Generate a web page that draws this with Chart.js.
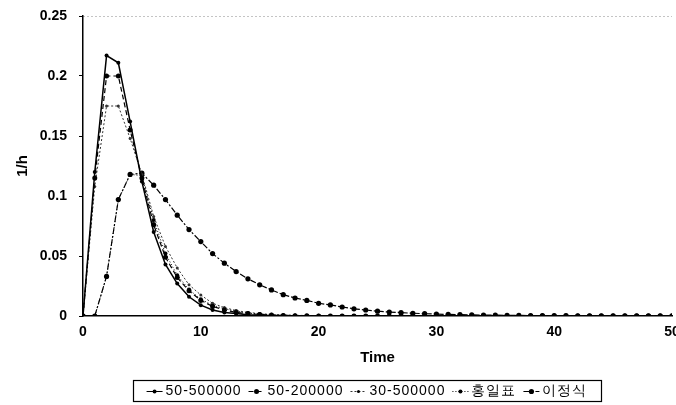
<!DOCTYPE html>
<html>
<head>
  <meta charset="utf-8">
  <title>1/h vs Time</title>
  <script src="https://cdn.jsdelivr.net/npm/chart.js@4.4.0/dist/chart.umd.min.js"></script>
  <style>
    body { margin: 0; overflow: hidden; background: #fff; }
    #wrap { width: 690px; height: 405px; }
  </style>
</head>
<body>
  <div id="wrap">
    <canvas id="myChart" width="690" height="405"></canvas>
  </div>

  <script>
    // time steps
    const times = [0, 1, 2, 3, 4, 5, 6, 7, 8, 9, 10, 11, 12, 13, 14, 15, 16, 17, 18, 19, 20,
      21, 22, 23, 24, 25, 26, 27, 28, 29, 30, 31, 32, 33, 34, 35, 36, 37, 38, 39, 40,
      41, 42, 43, 44, 45, 46, 47, 48, 49, 50];

    const seriesLabels = ['50-500000', '50-200000', '30-500000', '홍일표', '이정식'];

    const s50_500000 = [0, 0.120, 0.217, 0.211, 0.162, 0.112, 0.070, 0.043, 0.027, 0.016, 0.009,
      0.005, 0.003, 0.002, 0.001, 0.0007, 0.0004, 0.0003, 0.0002, 0.0001, 0,
      0, 0, 0, 0, 0, 0, 0, 0, 0, 0, 0, 0, 0, 0, 0, 0, 0, 0, 0, 0,
      0, 0, 0, 0, 0, 0, 0, 0, 0, 0];

    const s50_200000 = [0, 0.115, 0.200, 0.200, 0.155, 0.115, 0.076, 0.049, 0.032, 0.021, 0.013,
      0.008, 0.005, 0.003, 0.002, 0.0013, 0.0008, 0.0005, 0.0003, 0.0002, 0.0001,
      0, 0, 0, 0, 0, 0, 0, 0, 0, 0, 0, 0, 0, 0, 0, 0, 0, 0, 0, 0,
      0, 0, 0, 0, 0, 0, 0, 0, 0, 0];

    const s30_500000 = [0, 0.108, 0.175, 0.175, 0.148, 0.118, 0.083, 0.058, 0.040, 0.026, 0.0175,
      0.0106, 0.007, 0.0045, 0.003, 0.002, 0.0013, 0.0009, 0.0006, 0.0004, 0.0003,
      0.0002, 0.0001, 0, 0, 0, 0, 0, 0, 0, 0, 0, 0, 0, 0, 0, 0, 0, 0, 0, 0,
      0, 0, 0, 0, 0, 0, 0, 0, 0, 0];

    const sHong = [0, 0, 0.033, 0.097, 0.118, 0.117, 0.080, 0.052, 0.034, 0.022, 0.014,
      0.009, 0.006, 0.004, 0.0025, 0.0016, 0.001, 0.0006, 0.0004, 0.0003, 0.0002,
      0.0001, 0, 0, 0, 0, 0, 0, 0, 0, 0, 0, 0, 0, 0, 0, 0, 0, 0, 0, 0,
      0, 0, 0, 0, 0, 0, 0, 0, 0, 0];

    const sLee = [0, 0, 0.033, 0.097, 0.118, 0.119, 0.109, 0.097, 0.084, 0.072, 0.062,
      0.052, 0.044, 0.037, 0.031, 0.026, 0.0217, 0.0178, 0.015, 0.013, 0.0106,
      0.0092, 0.0075, 0.006, 0.005, 0.004, 0.0033, 0.0028, 0.0023, 0.0019, 0.0016,
      0.0013, 0.0011, 0.0009, 0.0008, 0.0007, 0.0006, 0.0005, 0.0004, 0.0004, 0.0003,
      0.0003, 0.0002, 0.0002, 0.0002, 0.0001, 0.0001, 0.0001, 0.0001, 0.0001, 0.0001];

    const yTicks = [0, 0.05, 0.1, 0.15, 0.2, 0.25];
    const xTicks = [0, 10, 20, 30, 40, 50];

    function toPoints(values) {
      return values.map((v, i) => ({ x: times[i], y: v }));
    }

    const FONT = 'Liberation Sans, Arial, sans-serif';

    // draws the boxed legend under the chart
    const boxLegend = {
      id: 'boxLegend',
      afterDraw(chart) {
        const ctx = chart.ctx;
        const left = 133, right = 601, top = 380, bottom = 401;
        ctx.save();
        ctx.strokeStyle = '#000';
        ctx.lineWidth = 1.2;
        ctx.strokeRect(left + 0.5, top + 0.5, right - left, bottom - top);
        ctx.font = '14px ' + FONT;
        ctx.letterSpacing = '1px';
        ctx.textBaseline = 'middle';
        const sample = 16, gap = 3, itemGap = 7;
        let total = 0;
        chart.data.datasets.forEach(ds => {
          total += sample + gap + ctx.measureText(ds.label).width + itemGap;
        });
        total -= itemGap;
        let x = left + (right - left - total) / 2;
        const y = (top + bottom) / 2 + 1;
        chart.data.datasets.forEach(ds => {
          ctx.strokeStyle = ds.borderColor;
          ctx.lineWidth = 1;
          ctx.setLineDash(ds.borderDash || []);
          ctx.beginPath();
          ctx.moveTo(x, y);
          ctx.lineTo(x + sample, y);
          ctx.stroke();
          ctx.setLineDash([]);
          if (ds.pointRadius > 0) {
            ctx.fillStyle = '#000';
            ctx.beginPath();
            ctx.arc(x + sample / 2, y, ds.pointRadius, 0, Math.PI * 2);
            ctx.fill();
          }
          x += sample + gap;
          ctx.fillStyle = '#000';
          ctx.fillText(ds.label, x, y);
          x += ctx.measureText(ds.label).width + itemGap;
        });
        ctx.restore();
      }
    };

    const ctx = document.getElementById('myChart').getContext('2d');
    const myChart = new Chart(ctx, {
      type: 'line',
      data: {
        datasets: [{
          label: seriesLabels[0],
          data: toPoints(s50_500000),
          borderColor: '#000',
          borderWidth: 1.5,
          pointRadius: 2,
          pointBackgroundColor: '#000',
          pointBorderWidth: 0
        }, {
          label: seriesLabels[1],
          data: toPoints(s50_200000),
          borderColor: '#000',
          borderWidth: 1.2,
          borderDash: [5, 3],
          pointRadius: 2.5,
          pointBackgroundColor: '#000',
          pointBorderWidth: 0
        }, {
          label: seriesLabels[2],
          data: toPoints(s30_500000),
          borderColor: '#333',
          borderWidth: 1,
          borderDash: [2, 2],
          pointRadius: 1.5,
          pointBackgroundColor: '#333',
          pointBorderWidth: 0
        }, {
          label: seriesLabels[3],
          data: toPoints(sHong),
          borderColor: '#000',
          borderWidth: 1,
          borderDash: [1, 2],
          pointRadius: 2,
          pointBackgroundColor: '#000',
          pointBorderWidth: 0
        }, {
          label: seriesLabels[4],
          data: toPoints(sLee),
          borderColor: '#000',
          borderWidth: 1.2,
          borderDash: [6, 2, 2, 2],
          pointRadius: 2.6,
          pointBackgroundColor: '#000',
          pointBorderWidth: 0
        }]
      },
      options: {
        responsive: false,
        animation: false,
        layout: { padding: { left: 0, top: 16, right: 18, bottom: 0 } },
        plugins: {
          legend: { display: false },
          tooltip: { enabled: false }
        },
        scales: {
          x: {
            type: 'linear',
            min: 0,
            max: 50,
            afterBuildTicks: s => { s.ticks = xTicks.map(v => ({ value: v })); },
            afterFit: s => { s.height = 89; },
            ticks: {
              color: '#000',
              font: { family: FONT, size: 14, weight: 'bold' },
              padding: 8,
              maxRotation: 0
            },
            grid: { display: true, drawOnChartArea: false, drawTicks: false },
            border: { color: '#000', width: 1.5 },
            title: {
              display: true,
              text: 'Time',
              color: '#000',
              font: { family: FONT, size: 15, weight: 'bold' },
              padding: { top: 4, bottom: 38 }
            }
          },
          y: {
            min: 0,
            max: 0.25,
            afterBuildTicks: s => { s.ticks = yTicks.map(v => ({ value: v })); },
            afterFit: s => {
              s.width = 83;
              s.paddingTop = 0;
              s.paddingBottom = 0;
            },
            ticks: {
              color: '#000',
              font: { family: FONT, size: 14, weight: 'bold' },
              padding: 12,
              callback: v => String(v)
            },
            grid: {
              drawOnChartArea: true,
              drawTicks: true,
              tickLength: 4,
              tickColor: '#000',
              color: c => (c.tick && c.tick.value === 0.25) ? '#888' : 'rgba(0,0,0,0)',
              lineWidth: 1
            },
            border: { color: '#000', width: 1.5, dash: [1, 3] },
            title: {
              display: true,
              text: '1/h',
              color: '#000',
              font: { family: FONT, size: 15, weight: 'bold' },
              padding: { top: 14, bottom: 0 }
            }
          }
        }
      },
      plugins: [boxLegend]
    });
  </script>
</body>
</html>
